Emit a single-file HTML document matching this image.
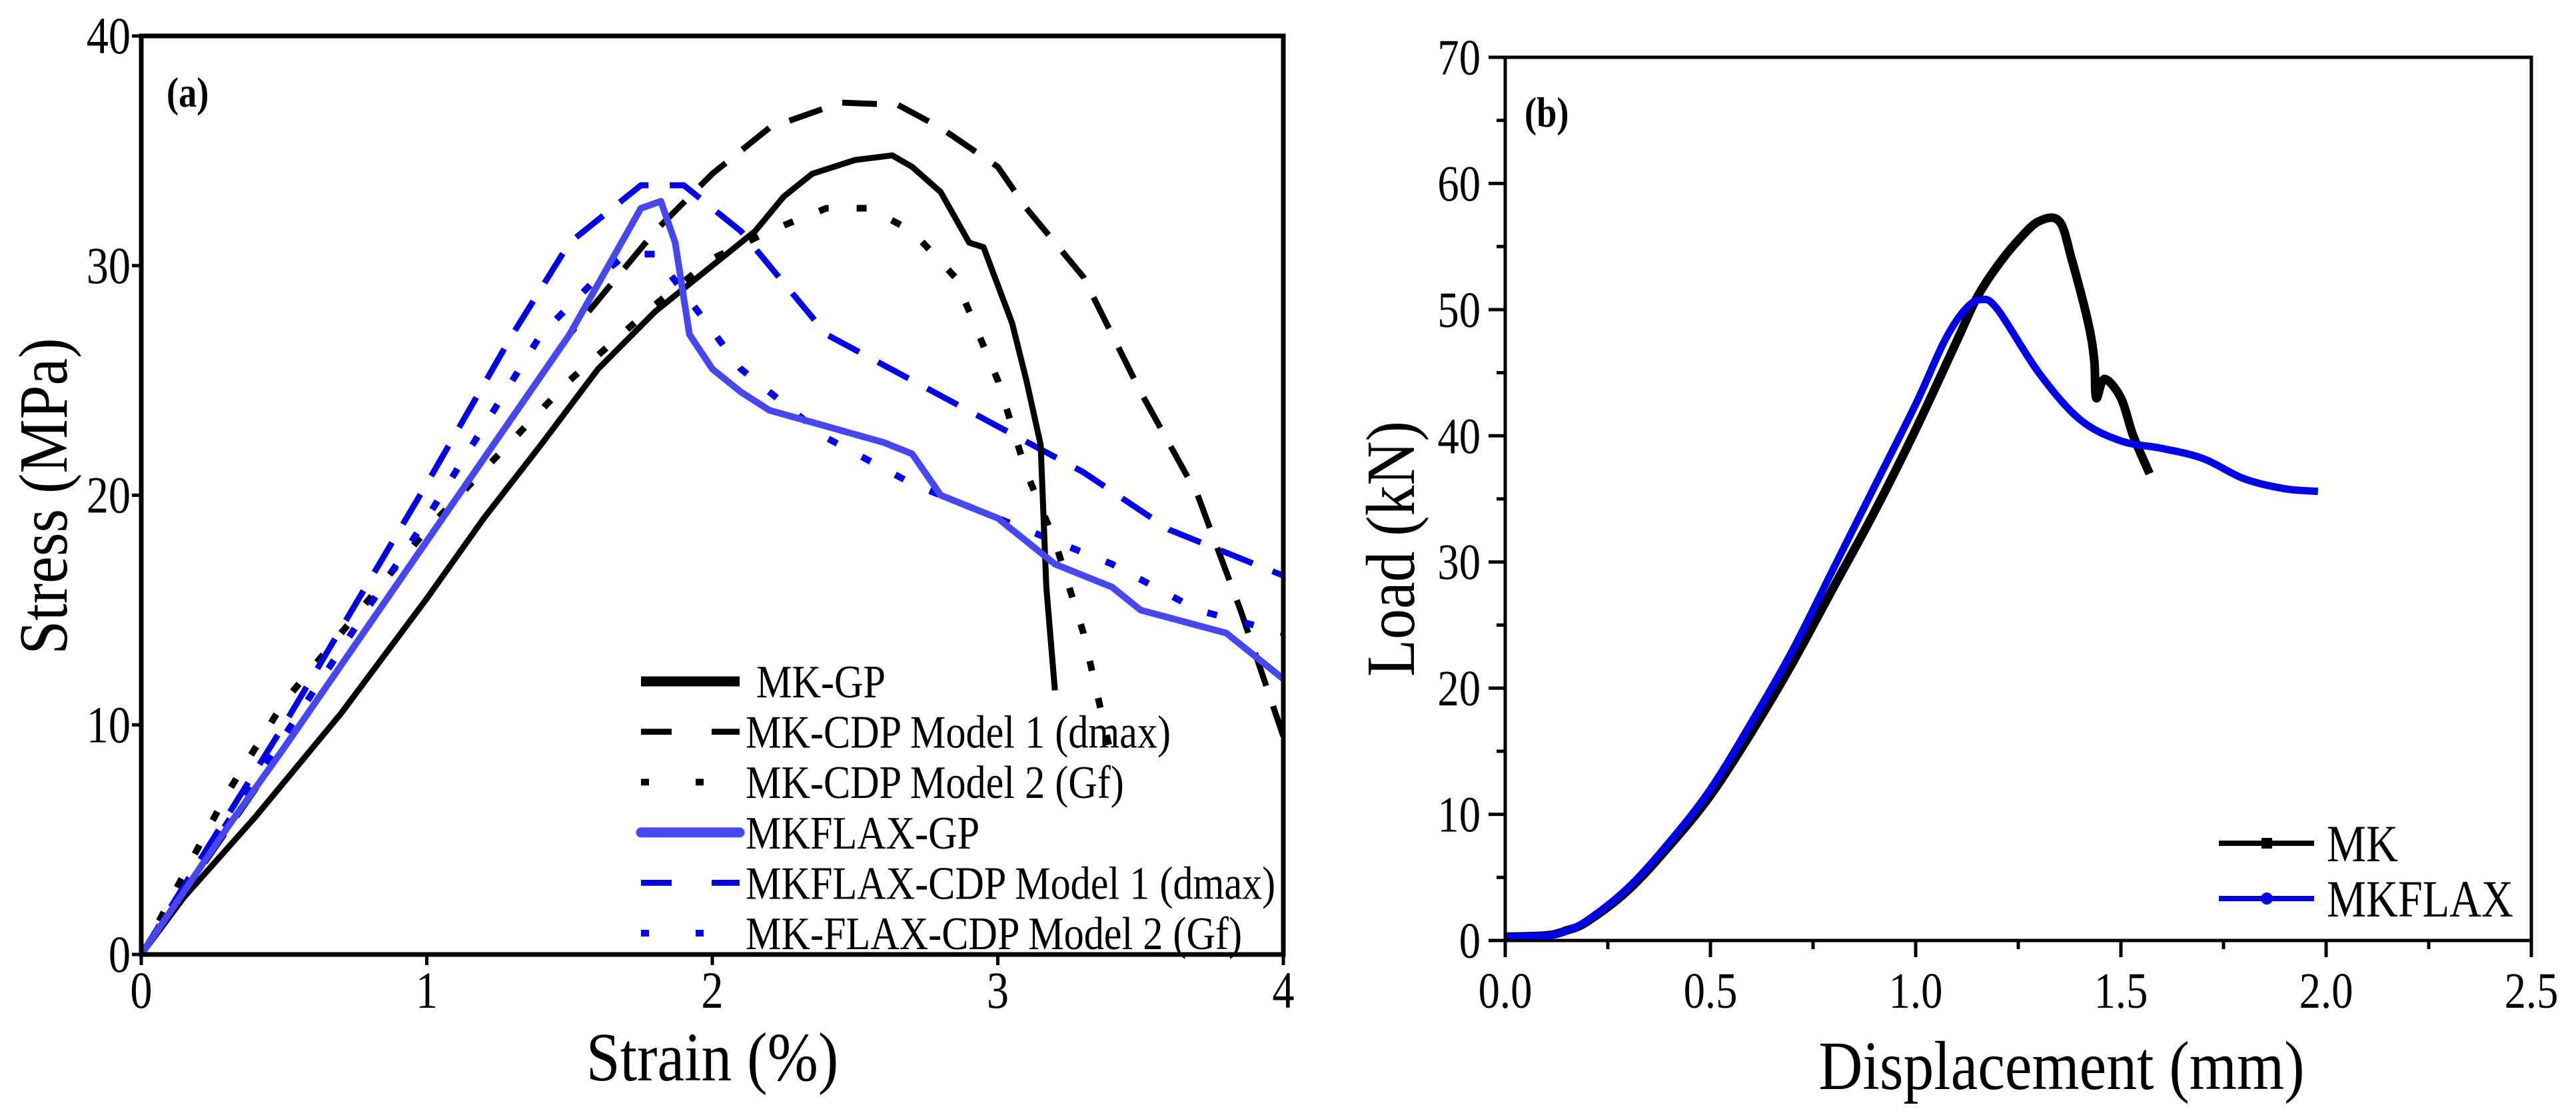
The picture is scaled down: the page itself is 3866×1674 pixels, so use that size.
<!DOCTYPE html>
<html><head><meta charset="utf-8"><style>
html,body{margin:0;padding:0;background:#fff;}
svg{display:block;font-family:"Liberation Serif","Times New Roman",serif;}
</style></head><body>
<svg id="fig" width="3866" height="1674" viewBox="0 0 3866 1674" xmlns="http://www.w3.org/2000/svg">
<g id="pa"></g>
<g id="pb"></g>
</svg>
<script>
// Panel (a) data: strain (%) vs stress (MPa)
const mkGP_x=[0,0.15,0.4,0.7,0.85,1,1.2,1.4,1.6,1.8,2,2.15,2.25,2.35,2.5,2.63,2.7,2.8,2.9,2.95,3.05,3.1,3.15,3.17,3.2];
const mkGP_y=[0,2.5,6,10.5,13,15.5,19,22.2,25.5,28,30,31.5,33,34,34.6,34.8,34.3,33.2,31,30.8,27.5,25,22.2,16,11.5];
const mkM1_x=[0,0.5,1,1.5,1.8,2,2.2,2.45,2.65,2.8,3,3.1,3.3,3.5,3.7,3.85,4];
const mkM1_y=[0,9,18,27,31.5,34,36,37.1,37,36,34.3,32.5,29.5,24.5,20,15,9.5];
const mkM2_x=[0,0.3,0.5,1,1.5,1.8,2,2.2,2.4,2.55,2.7,2.85,3,3.1,3.2,3.3,3.4];
const mkM2_y=[0,7,11,18.5,25,28.3,30.3,31.5,32.5,32.5,31.5,29.5,25,21,18,14,8.5];
const flGP_x=[0,0.3,0.5,1,1.5,1.75,1.82,1.87,1.92,2,2.1,2.2,2.4,2.6,2.7,2.8,3,3.2,3.4,3.5,3.8,4];
const flGP_y=[0,5.5,9,18,27,32.5,32.8,31,27,25.5,24.5,23.7,23,22.3,21.8,20,19,17,16,15,14,12];
const flM1_x=[0,0.5,1,1.3,1.5,1.75,1.9,2.1,2.4,2.7,3,3.3,3.6,4];
const flM1_y=[0,10,20.5,27,31,33.5,33.5,31.5,27,25,23,21,18.5,16.5];
const flM2_x=[0,0.5,1,1.4,1.6,1.7,1.8,1.95,2.1,2.4,2.7,3,3.4,3.7,4];
const flM2_y=[0,9.5,19,27,29.5,30.5,30.5,28,25.5,22.5,20.5,19,17,15,14];
const aXTicks=[0,1,2,3,4];
const aYTicks=[0,10,20,30,40];
// Panel (b) data: displacement (mm) vs load (kN)
const mk_x=[0,0.1,0.15,0.2,0.3,0.4,0.5,0.6,0.7,0.8,0.9,1.0,1.1,1.15,1.2,1.25,1.3,1.35,1.38,1.42,1.435,1.44,1.46,1.5,1.53,1.57];
const mk_y=[0.3,0.4,0.8,1.5,4,7.5,11.5,16.5,22,28,34,40.5,47.5,51,53.5,55.5,57,57,54,49,46,43,44.5,43,40,37];
const fx_x=[0,0.1,0.15,0.2,0.3,0.4,0.5,0.6,0.7,0.8,0.9,1.0,1.07,1.12,1.16,1.2,1.3,1.4,1.5,1.6,1.7,1.8,1.9,1.98];
const fx_y=[0.3,0.4,0.8,1.6,4.2,7.8,12,17.3,23,29.5,36,42.5,47.5,50,50.8,50,45,41.3,39.6,39,38.2,36.6,35.8,35.6];
const bXTicks=["0.0","0.5","1.0","1.5","2.0","2.5"];
const bYTicks=[0,10,20,30,40,50,60,70];

const NS="http://www.w3.org/2000/svg";
function mk(parent,tag,attrs,text){const e=document.createElementNS(NS,tag);for(const k in attrs)e.setAttribute(k,attrs[k]);if(text!==undefined)e.textContent=text;parent.appendChild(e);return e;}
function txt(parent,x,y,size,anchor,str,sx,extra){
  const a=Object.assign({x:0,y:0,'font-size':size,'text-anchor':anchor,transform:'translate('+x+','+y+') scale('+sx+',1)'},extra||{});
  return mk(parent,'text',a,str);
}
function pathD(xs,ys,fx,fy){return xs.map((v,i)=>(i?'L':'M')+fx(v).toFixed(1)+','+fy(ys[i]).toFixed(1)).join('');}
function smoothD(xs,ys,fx,fy){
  const P=xs.map((v,i)=>[fx(v),fy(ys[i])]);
  let d='M'+P[0][0].toFixed(1)+','+P[0][1].toFixed(1);
  for(let i=0;i<P.length-1;i++){
    const p0=P[Math.max(0,i-1)],p1=P[i],p2=P[i+1],p3=P[Math.min(P.length-1,i+2)];
    const c1=[p1[0]+(p2[0]-p0[0])/6,p1[1]+(p2[1]-p0[1])/6];
    const c2=[p2[0]-(p3[0]-p1[0])/6,p2[1]-(p3[1]-p1[1])/6];
    d+='C'+c1[0].toFixed(1)+','+c1[1].toFixed(1)+' '+c2[0].toFixed(1)+','+c2[1].toFixed(1)+' '+p2[0].toFixed(1)+','+p2[1].toFixed(1);
  }
  return d;
}
function line(g,d,style,name){
  const p=mk(g,'path',Object.assign({d:d,fill:'none','stroke-linejoin':'round'},style));
  
  
  return p;
}

// ---------- Panel A ----------
const A={x0:212,x1:1926,y0:1433,y1:54,xmin:0,xmax:4,ymin:0,ymax:40};
const ax=v=>A.x0+(v-A.xmin)/(A.xmax-A.xmin)*(A.x1-A.x0);
const ay=v=>A.y0-(v-A.ymin)/(A.ymax-A.ymin)*(A.y0-A.y1);
const pa=document.getElementById('pa');
const sA={
 gp:{stroke:'#000','stroke-width':9},
 m1:{stroke:'#000','stroke-width':9,'stroke-dasharray':'52 32'},
 m2:{stroke:'#000','stroke-width':10,'stroke-dasharray':'15 42'},
 fgp:{stroke:'#4646f5','stroke-width':10,'stroke-linecap':'round'},
 fm1:{stroke:'#0000ee','stroke-width':9,'stroke-dasharray':'52 32'},
 fm2:{stroke:'#0000ee','stroke-width':10,'stroke-dasharray':'15 42'}
};
const clipA=mk(pa,'clipPath',{id:'ca'});mk(clipA,'rect',{x:A.x0,y:A.y1,width:A.x1-A.x0,height:A.y0-A.y1});
const gA=mk(pa,'g',{'clip-path':'url(#ca)'});
line(gA,pathD(mkM1_x,mkM1_y,ax,ay),sA.m1,'mk-cdp-model1-line');
line(gA,pathD(mkM2_x,mkM2_y,ax,ay),sA.m2,'mk-cdp-model2-line');
line(gA,pathD(flM1_x,flM1_y,ax,ay),sA.fm1,'mkflax-cdp-model1-line');
line(gA,pathD(flM2_x,flM2_y,ax,ay),sA.fm2,'mkflax-cdp-model2-line');
line(gA,pathD(mkGP_x,mkGP_y,ax,ay),sA.gp,'mk-gp-line');
line(gA,pathD(flGP_x,flGP_y,ax,ay),sA.fgp,'mkflax-gp-line');
mk(pa,'rect',{x:A.x0,y:A.y1,width:A.x1-A.x0,height:A.y0-A.y1,fill:'none',stroke:'#000','stroke-width':7});
aXTicks.forEach(v=>{
  mk(pa,'line',{x1:ax(v),x2:ax(v),y1:A.y0,y2:A.y0+16,stroke:'#000','stroke-width':5});
  const t=txt(pa,ax(v),1513,78,'middle',String(v),0.85);
  
  
});
aYTicks.forEach(v=>{
  mk(pa,'line',{x1:A.x0-14,x2:A.x0,y1:ay(v),y2:ay(v),stroke:'#000','stroke-width':5});
  const t=txt(pa,196,ay(v)+26,78,'end',String(v),0.85);
  
  
});
let t;
t=txt(pa,1069,1622,104,'middle','Strain (%)',0.88);

t=mk(pa,'text',{x:0,y:0,'font-size':104,'text-anchor':'middle',transform:'translate(100,745) rotate(-90) scale(0.88,1)'},'Stress (MPa)');

t=txt(pa,250,160,64,'start','(a)',0.85,{'font-weight':'bold'});

const legA=[['MK-GP',sA.gp,1135],['MK-CDP Model 1 (dmax)',sA.m1,1119],['MK-CDP Model 2 (Gf)',sA.m2,1119],['MKFLAX-GP',sA.fgp,1119],['MKFLAX-CDP Model 1 (dmax)',sA.fm1,1119],['MK-FLAX-CDP Model 2 (Gf)',sA.fm2,1119]];
legA.forEach((e,i)=>{
  const y=1023+i*75.6;
  const g=mk(pa,'g',{});
  
  
  const st=Object.assign({},e[1]);
  if(i===0||i===3)st['stroke-width']=15;
  if(st['stroke-dasharray']&&st['stroke-dasharray'].startsWith('52'))st['stroke-dasharray']='46 60';
  if(st['stroke-dasharray']&&st['stroke-dasharray'].startsWith('15'))st['stroke-dasharray']='12 70';
  mk(g,'line',Object.assign({x1:962,x2:1110,y1:y,y2:y},st));
  txt(g,e[2],y+24,70,'start',e[0],0.86);
});

// ---------- Panel B ----------
const B={x0:2259,x1:3799,y0:1412,y1:86,xmin:0,xmax:2.5,ymin:0,ymax:70};
const bx=v=>B.x0+(v-B.xmin)/(B.xmax-B.xmin)*(B.x1-B.x0);
const by=v=>B.y0-(v-B.ymin)/(B.ymax-B.ymin)*(B.y0-B.y1);
const pb=document.getElementById('pb');
line(pb,smoothD(mk_x,mk_y,bx,by),{stroke:'#000','stroke-width':13},'mk-line');
line(pb,smoothD(fx_x,fx_y,bx,by),{stroke:'#0000f0','stroke-width':11},'mkflax-line');
mk(pb,'rect',{x:B.x0,y:B.y1,width:B.x1-B.x0,height:B.y0-B.y1,fill:'none',stroke:'#000','stroke-width':5});
bXTicks.forEach(s=>{
  const v=parseFloat(s);
  mk(pb,'line',{x1:bx(v),x2:bx(v),y1:B.y0,y2:B.y0+25,stroke:'#000','stroke-width':5});
  if(v<2.5)mk(pb,'line',{x1:bx(v+0.25),x2:bx(v+0.25),y1:B.y0,y2:B.y0+13,stroke:'#000','stroke-width':5});
  const tt=txt(pb,bx(v),1513,76,'middle',s,0.85);
  
  
});
bYTicks.forEach(v=>{
  mk(pb,'line',{x1:B.x0-25,x2:B.x0,y1:by(v),y2:by(v),stroke:'#000','stroke-width':5});
  if(v<70)mk(pb,'line',{x1:B.x0-13,x2:B.x0,y1:by(v+5),y2:by(v+5),stroke:'#000','stroke-width':5});
  const tt=txt(pb,2222,by(v)+26,76,'end',String(v),0.85);
  
  
});
t=txt(pb,3094,1635,104,'middle','Displacement (mm)',0.88);

t=mk(pb,'text',{x:0,y:0,'font-size':104,'text-anchor':'middle',transform:'translate(2122,824) rotate(-90) scale(0.88,1)'},'Load (kN)');

t=txt(pb,2288,190,64,'start','(b)',0.85,{'font-weight':'bold'});

[['MK','#000',1266,'sq'],['MKFLAX','#0000f0',1349,'ci']].forEach(e=>{
  const g=mk(pb,'g',{});
  
  
  mk(g,'line',{x1:3330,x2:3473,y1:e[2],y2:e[2],stroke:e[1],'stroke-width':8});
  if(e[3]==='sq')mk(g,'rect',{x:3394,y:e[2]-8,width:16,height:16,fill:e[1]});
  else mk(g,'circle',{cx:3402,cy:e[2],r:9,fill:e[1]});
  txt(g,3492,e[2]+27,78,'start',e[0],0.85);
});
</script>
</body></html>
